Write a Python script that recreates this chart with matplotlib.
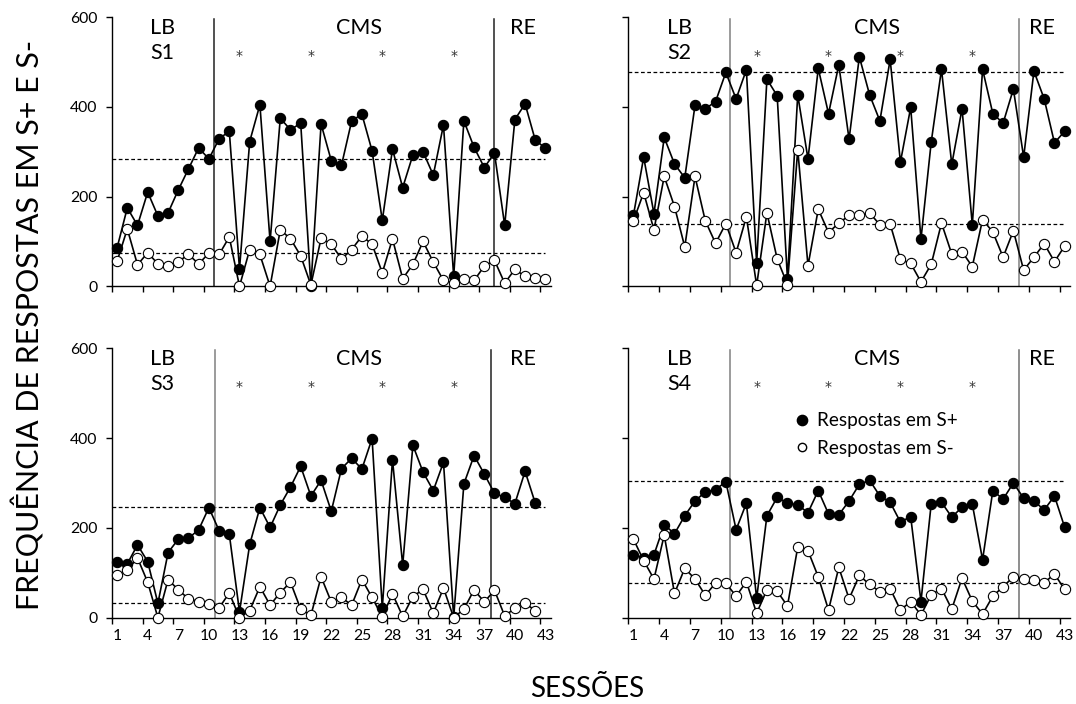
import numpy as np
import matplotlib
matplotlib.use("Agg")
import matplotlib.pyplot as plt
from matplotlib.lines import Line2D

plt.rcParams['font.family'] = ['Lato', 'DejaVu Sans']

# ---------------- data ----------------
s1_plus = [86, 175, 136, 210, 157, 164, 215, 262, 309, 284,
           329, 346, 39, 323, 405, 100, 375, 349, 364, 1,
           362, 280, 270, 369, 384, 302, 147, 306, 220, 293,
           300, 248, 360, 22, 369, 310, 265, 297, 136, 372,
           407, 326, 308]
s1_minus = [56, 128, 48, 75, 50, 45, 55, 71, 50, 74,
            71, 110, 0, 82, 71, 0, 126, 106, 68, 3,
            107, 94, 61, 82, 112, 94, 30, 106, 17, 49,
            100, 54, 13, 8, 16, 13, 45, 58, 7, 38,
            22, 19, 16]

s2_plus = [158, 288, 162, 332, 273, 242, 404, 396, 412, 477,
           418, 483, 51, 462, 425, 16, 427, 284, 486, 385,
           494, 328, 512, 427, 369, 506, 277, 399, 105, 322,
           484, 272, 396, 137, 484, 385, 364, 440, 288, 480,
           418, 320, 346]
s2_minus = [146, 209, 126, 245, 178, 88, 245, 146, 96, 140,
            75, 155, 2, 164, 61, 4, 305, 46, 172, 120,
            141, 158, 158, 164, 137, 139, 60, 51, 10, 49,
            141, 72, 77, 44, 149, 121, 65, 124, 36, 65,
            95, 55, 90]

s3_plus = [123, 120, 162, 125, 32, 145, 175, 177, 196, 245,
           194, 186, 13, 163, 245, 201, 251, 291, 337, 271,
           306, 237, 332, 355, 331, 399, 21, 352, 117, 384,
           324, 283, 346, 1, 298, 361, 320, 277, 268, 254,
           326, 255]
s3_minus = [94, 106, 133, 79, 0, 85, 62, 42, 36, 31,
            22, 55, 0, 16, 69, 28, 56, 79, 19, 5,
            91, 35, 45, 28, 85, 45, 2, 53, 3, 47,
            63, 10, 66, 0, 19, 62, 35, 61, 4, 21,
            32, 16]

s4_plus = [140, 134, 140, 207, 187, 227, 260, 280, 285, 303,
           196, 255, 43, 227, 268, 255, 251, 234, 283, 231,
           229, 260, 297, 306, 271, 257, 213, 225, 36, 254,
           257, 224, 246, 253, 129, 283, 264, 300, 266, 260,
           240, 271, 201]
s4_minus = [175, 127, 86, 184, 54, 110, 86, 50, 77, 77,
            48, 80, 10, 62, 59, 26, 157, 149, 91, 17,
            112, 42, 94, 74, 58, 65, 17, 36, 6, 51,
            65, 19, 88, 37, 8, 48, 69, 91, 87, 84,
            78, 97, 63]

subjects = ['S1', 'S2', 'S3', 'S4']
plus_data = [s1_plus, s2_plus, s3_plus, s4_plus]
minus_data = [s1_minus, s2_minus, s3_minus, s4_minus]
ref_plus = [284, 478, 246, 304]      # baseline reference (dashed)
ref_minus = [74, 140, 32, 77]
phase_start = [10.5, 10.4, 10.6, 10.4]
phase_end = [38.0, 38.5, 37.7, 38.5]
line_col_start = ['#222222', '#808080', '#808080', '#808080']
line_col_end = ['#222222', '#808080', '#222222', '#707070']
phase_names = ['LB', 'CMS', 'RE']
phase_label_x = [5.45, 24.7, 40.8]
star_sessions = [13, 20, 27, 34]
x_tick_labels = [str(v) for v in range(1, 44, 3)]
y_ticks = [0, 200, 400, 600]
legend_labels = ['Respostas em S+', 'Respostas em S-']

# ---------------- figure ----------------
fig = plt.figure(figsize=(10.76, 7.04), dpi=100)
positions = [
    [0.10409, 0.5933, 0.4076, 0.3821],
    [0.5839, 0.5933, 0.4104, 0.3821],
    [0.10409, 0.1226, 0.4076, 0.3827],
    [0.5839, 0.1226, 0.4104, 0.3827],
]

tick_fs = 11.3
for i, pos in enumerate(positions):
    ax = fig.add_axes(pos)
    yp = plus_data[i]
    ym = minus_data[i]
    xp = np.arange(1, len(yp) + 1)
    xm = np.arange(1, len(ym) + 1)

    # reference dashed lines
    ax.plot([0.5, 43], [ref_plus[i]] * 2, color='black', lw=0.9,
            ls=(0, (3, 2)), zorder=1)
    ax.plot([0.5, 43], [ref_minus[i]] * 2, color='black', lw=0.9,
            ls=(0, (3, 2)), zorder=1)
    # phase lines
    ax.plot([phase_start[i]] * 2, [0, 596], color=line_col_start[i], lw=1.1, zorder=1)
    ax.plot([phase_end[i]] * 2, [0, 596], color=line_col_end[i], lw=1.1, zorder=1)

    ax.plot(xp, yp, color='black', lw=1.2, marker='o', ms=7.4,
            mfc='black', mec='black', mew=0.8, zorder=3, clip_on=False)
    ax.plot(xm, ym, color='black', lw=1.2, marker='o', ms=7.4,
            mfc='white', mec='black', mew=0.8, zorder=4, clip_on=False)

    ax.set_xlim(0.5, 43.5)
    ax.set_ylim(0, 600)
    for s in ['top', 'right']:
        ax.spines[s].set_visible(False)
    for s in ['left', 'bottom']:
        ax.spines[s].set_linewidth(1.0)

    ax.set_xticks(np.arange(1, 44, 3))
    ax.set_xticks(np.arange(0.5, 43, 3), minor=True)
    ax.tick_params(axis='x', which='major', length=0, pad=8, labelsize=tick_fs)
    ax.tick_params(axis='x', which='minor', length=4.5, width=1.0, direction='out')
    if i >= 2:
        ax.set_xticklabels(x_tick_labels)
    else:
        ax.set_xticklabels([])
    ax.set_yticks(y_ticks)
    ax.tick_params(axis='y', length=4.5, width=1.0, direction='out', pad=6,
                   labelsize=tick_fs)
    if i % 2 == 1:
        ax.set_yticklabels([])

    # phase labels
    for name, px in zip(phase_names, phase_label_x):
        ax.text(px, 577, name, ha='center', va='center', fontsize=15.5)
    ax.text(phase_label_x[0], 520, subjects[i], ha='center', va='center', fontsize=15.5)
    for sx in star_sessions:
        ax.text(sx, 514, '*', ha='center', va='center', fontsize=10,
                family='DejaVu Sans', color='#333333')

    if i == 3:
        handles = [Line2D([], [], marker='o', ls='none', ms=7.4, mfc='black', mec='black'),
                   Line2D([], [], marker='o', ls='none', ms=6, mfc='white', mec='black')]
        ax.legend(handles, legend_labels, loc='upper left',
                  bbox_to_anchor=(0.372, 0.763), frameon=False, fontsize=13.6,
                  handlelength=1.0, handletextpad=0.3, labelspacing=0.55,
                  borderpad=0, borderaxespad=0)

fig.text(0.026, 0.538, 'FREQUÊNCIA DE RESPOSTAS EM S+ E S-', rotation=90,
         ha='center', va='center', fontsize=22)
fig.text(0.546, 0.021, 'SESSÕES', ha='center', va='center', fontsize=20)

fig.savefig('out.png', dpi=100)
